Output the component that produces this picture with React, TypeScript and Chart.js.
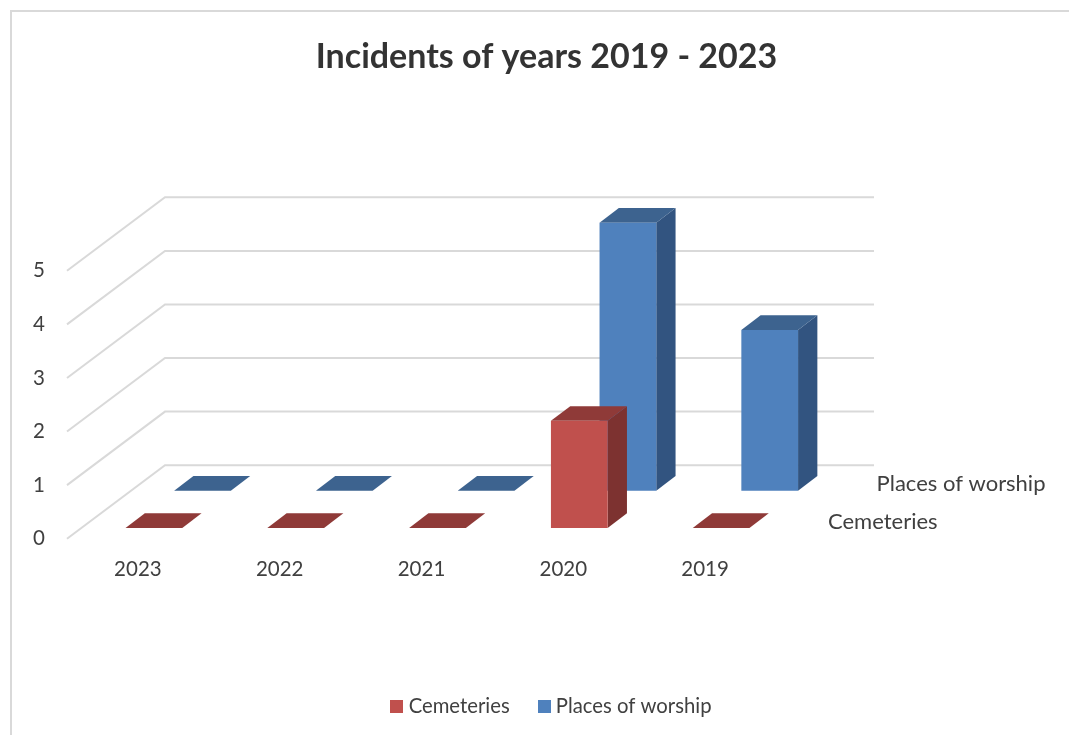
import React, { useEffect, useRef } from "react";
import { Chart, registerables } from "chart.js";

Chart.register(...registerables);

const years = ["2023", "2022", "2021", "2020", "2019"];
const cemeteries = [0, 0, 0, 2, 0];
const placesOfWorship = [0, 0, 0, 5, 3];
const yTicks = [0, 1, 2, 3, 4, 5];
const titleText = "Incidents of years 2019 - 2023";

const FONT = "Lato";
const TEXT = "#404040";
const GRID = "#d9d9d9";
const W = 1069;
const H = 735;

const FRONT = ["#c0504d", "#4f81bd"];
const SIDE = ["#7d3230", "#325480"];
const TOP = ["#8f3a38", "#3d638f"];
// Depth placement of each series row on the floor, and the depth of a bar
const ROW = [
  { dx: 16, dy: -10.7 },
  { dx: 64.6, dy: -48 },
];
const BAR_DX = 19.3;
const BAR_DY = -14.7;
const WALL_DX = 98;
const WALL_DY = -73.5;

const threeD = {
  id: "threeD",
  beforeDraw(chart: any) {
    const { ctx } = chart;
    ctx.save();
    ctx.fillStyle = "#fff";
    ctx.fillRect(0, 0, W, H);
    ctx.strokeStyle = GRID;
    ctx.lineWidth = 2;
    ctx.beginPath();
    ctx.moveTo(11, H);
    ctx.lineTo(11, 11);
    ctx.lineTo(W, 11);
    ctx.stroke();
    ctx.restore();
  },
  afterLayout(chart: any) {
    const t = chart.titleBlock;
    t.left = 0;
    t.right = 1093;
    const l = chart.legend;
    l.left = 0;
    l.right = 1107;
    l.top -= 8;
    l.bottom -= 8;
  },
  beforeDatasetsDraw(chart: any) {
    const { ctx, scales } = chart;
    const { x, y } = scales;
    ctx.save();
    ctx.strokeStyle = GRID;
    ctx.lineWidth = 2;
    for (const v of yTicks) {
      const py = y.getPixelForValue(v);
      ctx.beginPath();
      ctx.moveTo(x.left, py);
      ctx.lineTo(x.left + WALL_DX, py + WALL_DY);
      ctx.lineTo(x.right + WALL_DX, py + WALL_DY);
      ctx.stroke();
    }
    ctx.restore();
  },
  beforeDatasetDraw(chart: any, args: any) {
    const { ctx } = chart;
    const i = args.index;
    ctx.save();
    ctx.translate(ROW[i].dx, ROW[i].dy);
    for (const el of args.meta.data) {
      const l = el.x - el.width / 2;
      const r = el.x + el.width / 2;
      const top = el.y;
      const base = el.base;
      ctx.fillStyle = SIDE[i];
      ctx.beginPath();
      ctx.moveTo(r, top);
      ctx.lineTo(r + BAR_DX, top + BAR_DY);
      ctx.lineTo(r + BAR_DX, base + BAR_DY);
      ctx.lineTo(r, base);
      ctx.closePath();
      ctx.fill();
      ctx.fillStyle = TOP[i];
      ctx.beginPath();
      ctx.moveTo(l, top);
      ctx.lineTo(l + BAR_DX, top + BAR_DY);
      ctx.lineTo(r + BAR_DX, top + BAR_DY);
      ctx.lineTo(r, top);
      ctx.closePath();
      ctx.fill();
    }
  },
  afterDatasetDraw(chart: any) {
    chart.ctx.restore();
  },
  afterDatasetsDraw(chart: any) {
    const { ctx, scales, data } = chart;
    const { x, y } = scales;
    ctx.save();
    ctx.fillStyle = TEXT;
    ctx.font = `22px ${FONT}`;
    ctx.textAlign = "left";
    ctx.textBaseline = "middle";
    data.datasets.forEach((ds: any, i: number) => {
      ctx.fillText(ds.label, x.right + ROW[i].dx + 36, y.getPixelForValue(0) + ROW[i].dy - 6.5);
    });
    ctx.restore();
  },
};

function swatch(color: string) {
  const c = document.createElement("canvas");
  c.width = 13;
  c.height = 13;
  const g = c.getContext("2d")!;
  g.fillStyle = color;
  g.fillRect(0, 0, 13, 13);
  return c;
}

export default function App() {
  const ref = useRef<HTMLCanvasElement>(null);
  useEffect(() => {
    const chart = new Chart(ref.current!, {
      type: "bar",
      data: {
        labels: years,
        datasets: [
          { label: "Cemeteries", data: cemeteries, backgroundColor: FRONT[0], clip: false } as any,
          { label: "Places of worship", data: placesOfWorship, backgroundColor: FRONT[1], clip: false } as any,
        ],
      },
      options: {
        animation: false,
        responsive: false,
        devicePixelRatio: 1,
        layout: { padding: { right: 293 } },
        datasets: { bar: { grouped: false, barPercentage: 0.4, categoryPercentage: 1 } },
        plugins: {
          tooltip: { enabled: false },
          title: {
            display: true,
            text: titleText,
            color: "#333333",
            font: { family: FONT, size: 34, weight: "bold", lineHeight: 1.2 },
            padding: { top: 37, bottom: 193 },
          },
          legend: {
            position: "bottom",
            labels: {
              usePointStyle: true,
              pointStyleWidth: 3,
              boxHeight: 13,
              padding: 33,
              color: TEXT,
              font: { family: FONT, size: 20.3 },
              generateLabels: (c: any) =>
                c.data.datasets.map((ds: any, i: number) => ({
                  text: ds.label,
                  datasetIndex: i,
                  fontColor: TEXT,
                  hidden: false,
                  lineWidth: 0,
                  pointStyle: swatch(FRONT[i]),
                })),
            },
          },
        },
        scales: {
          x: {
            grid: { display: false, drawTicks: false },
            border: { display: false },
            ticks: { color: TEXT, font: { family: FONT, size: 20.5 }, padding: 18, maxRotation: 0 },
            afterFit: (s: any) => {
              s.height = 133;
            },
          },
          y: {
            min: 0,
            max: 5,
            grid: { display: false, drawTicks: false },
            border: { display: false },
            ticks: { stepSize: 1, color: TEXT, font: { family: FONT, size: 20.5 }, padding: 22 },
            afterFit: (s: any) => {
              s.width = 67;
            },
          },
        },
      },
      plugins: [threeD],
    } as any);
    return () => chart.destroy();
  }, []);
  return (
    <div style={{ position: "fixed", left: 0, top: 0, width: W, height: H, overflow: "hidden" }}>
      <canvas ref={ref} width={W} height={H} style={{ display: "block" }} />
    </div>
  );
}
